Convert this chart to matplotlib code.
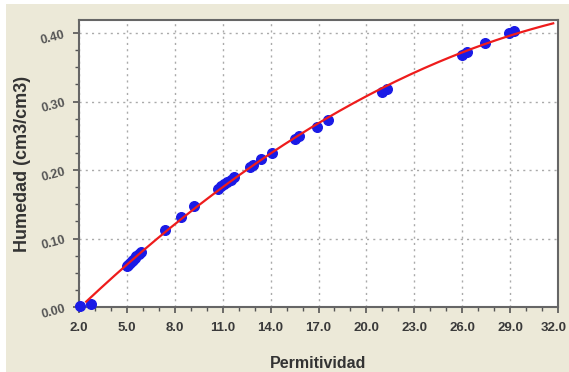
import numpy as np
import matplotlib.pyplot as plt
from matplotlib.patches import Rectangle
from matplotlib.ticker import MultipleLocator
from matplotlib.transforms import ScaledTranslation

plt.rcParams['font.family'] = ['Liberation Sans', 'DejaVu Sans']

# measured points (permittivity, moisture)
perm = [2.05, 2.75, 5.0, 5.1, 5.2, 5.3, 5.4, 5.5, 5.6, 5.75, 5.9,
        7.4, 8.4, 9.2, 10.7, 10.9, 11.1, 11.3, 11.5, 11.7,
        12.7, 12.9, 13.4, 14.1, 15.5, 15.8, 16.9, 17.6,
        21.0, 21.3, 26.0, 26.3, 27.4, 28.9, 29.25]
hum = [0.002, 0.005, 0.060, 0.062, 0.064, 0.067, 0.069, 0.072, 0.074, 0.077, 0.080,
       0.113, 0.132, 0.148, 0.173, 0.176, 0.179, 0.182, 0.186, 0.190,
       0.205, 0.208, 0.216, 0.225, 0.245, 0.250, 0.263, 0.273,
       0.314, 0.318, 0.368, 0.372, 0.385, 0.400, 0.403]

x_ticks = [2.0, 5.0, 8.0, 11.0, 14.0, 17.0, 20.0, 23.0, 26.0, 29.0, 32.0]
y_ticks = [0.0, 0.1, 0.2, 0.3, 0.4]

fig = plt.figure(figsize=(5.69, 3.72), dpi=100)
fig.patch.set_facecolor('white')
fig.patches.append(Rectangle((6 / 569, 0), 1, 1 - 4 / 372, transform=fig.transFigure,
                             facecolor='#ece9d8', edgecolor='none', zorder=-10))

ax = fig.add_axes([79 / 569, 65 / 372, 479 / 569, 287 / 372])
ax.set_facecolor('white')

# fitted curve
coef = np.polyfit(perm, hum, 2)
xf = np.linspace(2.45, 31.7, 200)
yf = np.polyval(coef, xf)
ax.scatter(perm, hum, s=48, color='#1a1ae6', zorder=3, clip_on=False)
ax.plot(xf, yf, color='#ee1c1c', lw=1.6, zorder=4)

ax.set_xlim(2.0, 32.0)
ax.set_ylim(0.0, 0.419)
ax.set_xticks(x_ticks)
ax.set_yticks(y_ticks)
ax.xaxis.set_minor_locator(MultipleLocator(1.0))
ax.yaxis.set_minor_locator(MultipleLocator(0.025))
ax.set_xticklabels(['%.1f' % v for v in x_ticks], fontsize=9.5, fontweight='bold', color='#3a3a3a')
ax.set_yticklabels(['%.2f' % v for v in y_ticks], fontsize=9, fontweight='bold', color='#555555',
                   rotation=15)
ax.tick_params(which='major', direction='out', length=4, width=1.2, color='#555555')
ax.tick_params(axis='x', which='major', pad=7)
ax.tick_params(axis='y', which='major', pad=5)
ax.tick_params(which='minor', direction='out', length=3, width=1.0, color='#555555')
ax.grid(True, which='major', linestyle=(0, (1.5, 3)), color='#aaaaaa', lw=1.0)

# nudge last x label so it stays inside the figure
last = ax.get_xticklabels()[-1]
last.set_transform(last.get_transform() + ScaledTranslation(-4 / 100, 0, fig.dpi_scale_trans))

for s in ax.spines.values():
    s.set_color('#666666')
    s.set_linewidth(1.5)

ax.set_xlabel('Permitividad', fontsize=11.5, fontweight='bold', color='#333333', labelpad=16)
ax.set_ylabel('Humedad (cm3/cm3)', fontsize=13, fontweight='bold', color='#333333', labelpad=6)

plt.savefig('out.png', dpi=100)
plt.close()
